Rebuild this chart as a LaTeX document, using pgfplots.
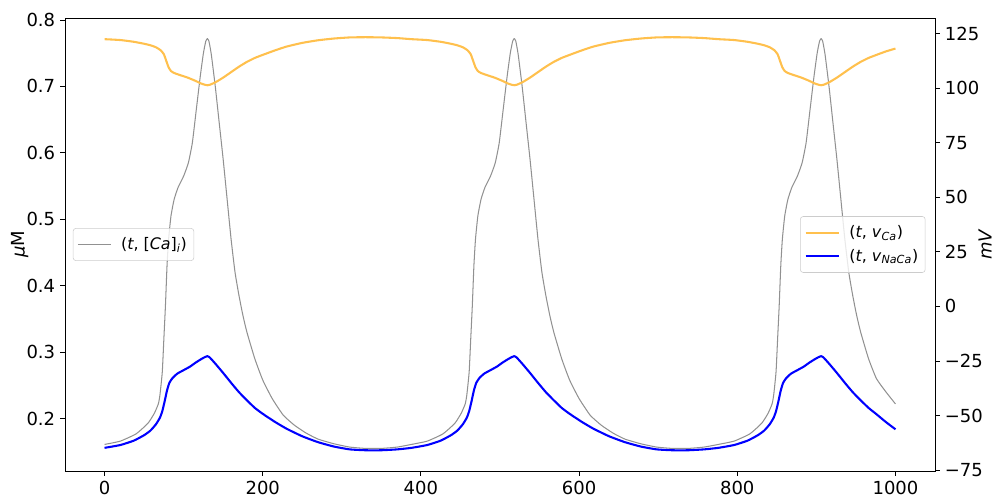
\documentclass[border=0pt]{standalone}
\usepackage{pgfplots}
\pgfplotsset{compat=1.18}
\usepackage{fontspec}
\setmainfont{DejaVu Sans}
\definecolor{cgray}{RGB}{145,145,145}
\definecolor{corange}{RGB}{255,192,77}
\definecolor{cblue}{RGB}{0,0,255}
\begin{document}
\begin{tikzpicture}
\useasboundingbox (-0.65in,-0.33in) rectangle (9.35in,4.71in);
\pgfplotsset{
  every axis/.append style={font=\fontsize{13}{15}\selectfont},
  mylegend/.style={legend style={draw=black!20, fill=white, fill opacity=0.8, text opacity=1, rounded corners=2pt, font=\fontsize{11.5}{14}\selectfont, inner xsep=3pt, inner ysep=4.5pt, row sep=3pt, cells={anchor=west}},
    legend image code/.code={\draw[##1] (0in,0in) -- (0.33in,0in); \path (0.40in,0pt);}}
}
\begin{axis}[
  scale only axis, width=8.7in, height=4.53in,
  xmin=-50, xmax=1050, ymin=0.121, ymax=0.803,
  xtick pos=bottom, ytick pos=left,
  tick align=outside, major tick length=3.6pt,
  xtick={0,200,400,600,800,1000}, xticklabels={0,200,400,600,800,1000},
  ytick={0.2,0.3,0.4,0.5,0.6,0.7,0.8}, yticklabels={0.2,0.3,0.4,0.5,0.6,0.7,0.8},
  ylabel={\textit{μ}M},
  ylabel style={at={(axis description cs:-0.0517,0.5)}, anchor=center},
  mylegend,
  legend style={at={(0.009,0.5)}, anchor=west},
  axis line style={line width=0.6pt},
  every tick/.style={black, line width=0.6pt},
]
\addplot[cgray, line width=0.75pt, line join=round, smooth, tension=0.3] coordinates {
(0,0.161)(20,0.166)(40,0.177)(55,0.193)(63,0.208)(68,0.222)(70,0.235)(73,0.270)(75,0.320)(77,0.370)(79,0.430)(81,0.470)(84,0.505)(88,0.530)(93,0.548)(100,0.565)(106,0.585)(111,0.615)(116,0.665)(121,0.715)(125,0.750)(128,0.768)(130,0.772)(132,0.768)(135,0.748)(140,0.700)(145,0.645)(150,0.590)(155,0.530)(160,0.470)(165,0.420)(170,0.385)(175,0.355)(180,0.330)(190,0.290)(200,0.258)(212,0.230)(226,0.205)(240,0.190)(255,0.178)(270,0.169)(290,0.162)(310,0.157)(330,0.155)(350,0.155)(370,0.157)
(388,0.161)(408,0.166)(428,0.177)(443,0.193)(451,0.208)(456,0.222)(458,0.235)(461,0.270)(463,0.320)(465,0.370)(467,0.430)(469,0.470)(472,0.505)(476,0.530)(481,0.548)(488,0.565)(494,0.585)(499,0.615)(504,0.665)(509,0.715)(513,0.750)(516,0.768)(518,0.772)(520,0.768)(523,0.748)(528,0.700)(533,0.645)(538,0.590)(543,0.530)(548,0.470)(553,0.420)(558,0.385)(563,0.355)(568,0.330)(578,0.290)(588,0.258)(600,0.230)(614,0.205)(628,0.190)(643,0.178)(658,0.169)(678,0.162)(698,0.157)(718,0.155)(738,0.155)(758,0.157)
(776,0.161)(796,0.166)(816,0.177)(831,0.193)(839,0.208)(844,0.222)(846,0.235)(849,0.270)(851,0.320)(853,0.370)(855,0.430)(857,0.470)(860,0.505)(864,0.530)(869,0.548)(876,0.565)(882,0.585)(887,0.615)(892,0.665)(897,0.715)(901,0.750)(904,0.768)(906,0.772)(908,0.768)(911,0.748)(916,0.700)(921,0.645)(926,0.590)(931,0.530)(936,0.470)(941,0.420)(946,0.385)(951,0.355)(956,0.330)(966,0.290)(976,0.260)(988,0.240)(1000,0.222)
};
\addlegendentry{(\textit{t}, [\textit{Ca}]\textsubscript{\textit{i}})}
\end{axis}
\begin{axis}[
  scale only axis, width=8.7in, height=4.53in,
  xmin=-50, xmax=1050, ymin=-75.4, ymax=132.1,
  axis y line*=right, axis x line=none,
  tick align=outside, major tick length=3.6pt,
  ytick={-75,-50,-25,0,25,50,75,100,125},
  yticklabels={−75,−50,−25,0,25,50,75,100,125},
  ylabel={\textit{mV}},
  ylabel style={at={(axis description cs:1.0575,0.5)}, anchor=center},
  mylegend,
  legend style={at={(0.989,0.5)}, anchor=east},
  axis line style={line width=0.6pt},
  every tick/.style={black, line width=0.6pt},
]
\addplot[corange, line width=1.5pt, line join=round, smooth, tension=0.3] coordinates {
(0,122.4)(20,122.0)(37,121.2)(50,120.3)(58,119.6)(65,118.7)(71,117.3)(75,115.5)(78,112.5)(81,109.5)(84,107.8)(88,106.9)(95,106.0)(105,104.8)(115,103.3)(122,102.1)(127,101.5)(130,101.3)(133,101.5)(140,102.6)(150,104.8)(160,107.3)(170,109.8)(180,112.0)(190,113.8)(200,115.2)(215,117.2)(230,119.0)(250,120.7)(270,121.9)(290,122.7)(310,123.2)(330,123.3)(350,123.2)(370,122.9)
(388,122.4)(408,122.0)(425,121.2)(438,120.3)(446,119.6)(453,118.7)(459,117.3)(463,115.5)(466,112.5)(469,109.5)(472,107.8)(476,106.9)(483,106.0)(493,104.8)(503,103.3)(510,102.1)(515,101.5)(518,101.3)(521,101.5)(528,102.6)(538,104.8)(548,107.3)(558,109.8)(568,112.0)(578,113.8)(588,115.2)(603,117.2)(618,119.0)(638,120.7)(658,121.9)(678,122.7)(698,123.2)(718,123.3)(738,123.2)(758,122.9)
(776,122.4)(796,122.0)(813,121.2)(826,120.3)(834,119.6)(841,118.7)(847,117.3)(851,115.5)(854,112.5)(857,109.5)(860,107.8)(864,106.9)(871,106.0)(881,104.8)(891,103.3)(898,102.1)(903,101.5)(906,101.3)(909,101.5)(916,102.6)(926,104.8)(936,107.3)(946,109.8)(956,112.0)(966,113.8)(976,115.2)(988,116.8)(1000,118.1)
};
\addlegendentry{(\textit{t}, \textit{v}\textsubscript{\textit{Ca}})}
\addplot[cblue, line width=1.5pt, line join=round, smooth, tension=0.3] coordinates {
(0,-64.8)(20,-63.5)(37,-61.5)(50,-59.0)(58,-56.9)(65,-54.0)(70,-51.0)(73,-48.0)(76,-43.5)(79,-38.5)(82,-35.0)(86,-32.8)(92,-30.8)(100,-29.2)(108,-27.6)(115,-25.8)(122,-24.2)(127,-23.2)(130,-22.8)(133,-23.4)(140,-26.2)(150,-30.5)(160,-35.0)(170,-39.3)(180,-43.0)(190,-46.5)(200,-49.2)(215,-52.8)(230,-56.0)(250,-59.5)(270,-62.2)(290,-64.2)(310,-65.5)(330,-65.9)(350,-65.9)(370,-65.5)
(388,-64.8)(408,-63.5)(425,-61.5)(438,-59.0)(446,-56.9)(453,-54.0)(458,-51.0)(461,-48.0)(464,-43.5)(467,-38.5)(470,-35.0)(474,-32.8)(480,-30.8)(488,-29.2)(496,-27.6)(503,-25.8)(510,-24.2)(515,-23.2)(518,-22.8)(521,-23.4)(528,-26.2)(538,-30.5)(548,-35.0)(558,-39.3)(568,-43.0)(578,-46.5)(588,-49.2)(603,-52.8)(618,-56.0)(638,-59.5)(658,-62.2)(678,-64.2)(698,-65.5)(718,-65.9)(738,-65.9)(758,-65.5)
(776,-64.8)(796,-63.5)(813,-61.5)(826,-59.0)(834,-56.9)(841,-54.0)(846,-51.0)(849,-48.0)(852,-43.5)(855,-38.5)(858,-35.0)(862,-32.8)(868,-30.8)(876,-29.2)(884,-27.6)(891,-25.8)(898,-24.2)(903,-23.2)(906,-22.8)(909,-23.4)(916,-26.2)(926,-30.5)(936,-35.0)(946,-39.3)(956,-43.0)(966,-46.5)(976,-49.4)(988,-53.0)(1000,-56.3)
};
\addlegendentry{(\textit{t}, \textit{v}\textsubscript{\textit{NaCa}})}
\end{axis}
\end{tikzpicture}
\end{document}
